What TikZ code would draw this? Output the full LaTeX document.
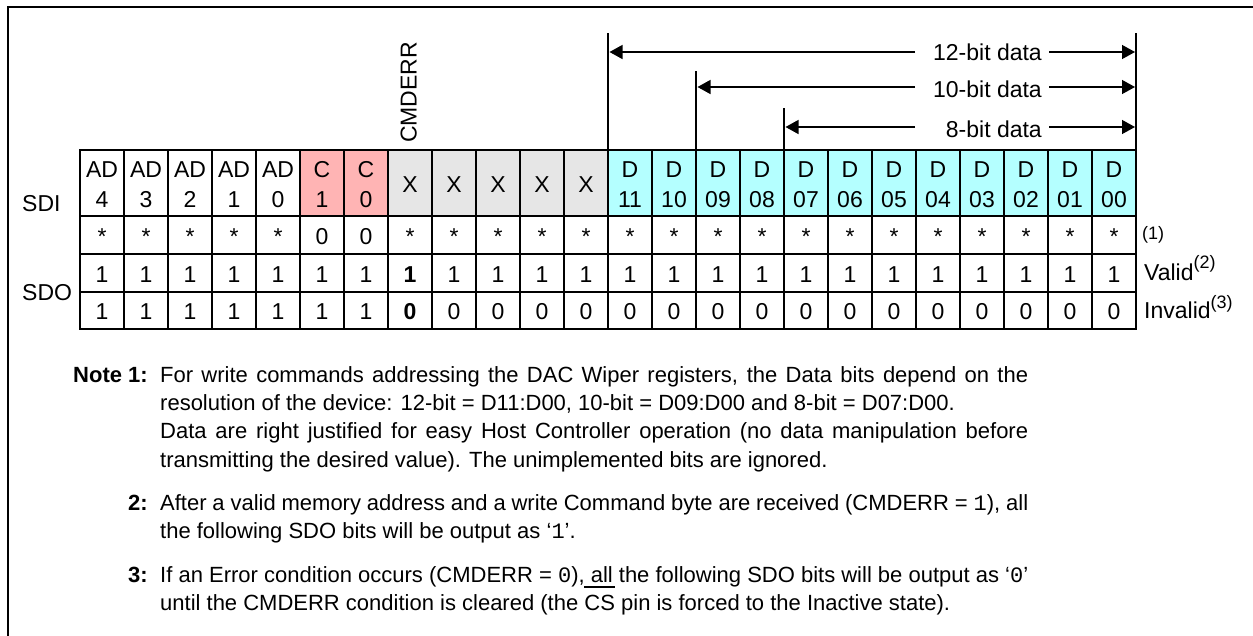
\documentclass[tikz,border=0pt]{standalone}
\usepackage{fontspec}
\setmainfont{Liberation Sans}
\newfontfamily\monof{Liberation Mono}
\usetikzlibrary{arrows.meta}
\definecolor{cpink}{RGB}{255,180,180}
\definecolor{cgrey}{RGB}{230,230,230}
\definecolor{ccyan}{RGB}{180,255,255}
\newcommand\myovl[1]{\setbox0\hbox{#1}\rlap{\rule[22.5pt]{\wd0}{1.5pt}}\box0\relax}
\begin{document}
\begin{tikzpicture}[x=1pt,y=-1pt,
  cellf/.style={font=\fontsize{23}{27}\selectfont, inner sep=0pt, anchor=base},
  notef/.style={font=\fontsize{22}{28}\selectfont, inner sep=0pt},
  sidef/.style={font=\fontsize{18}{22}\selectfont, inner sep=0pt, anchor=base west},
  gridthin/.style={line width=1.3pt},
  gridthick/.style={line width=2.5pt},
  marker/.style={line width=1.3pt},
  arr/.style={line width=1.3pt,-{Triangle[length=13pt,width=14pt]}}]
\useasboundingbox (0,0) rectangle (1253,635);
% frame
\draw[line width=2pt] (8,640) -- (8,7) -- (1260,7);
% fills
\foreach \i in {5,6} \fill[cpink] ({80+44*\i},150) rectangle ++(44,66);
\foreach \i in {7,...,11} \fill[cgrey] ({80+44*\i},150) rectangle ++(44,66);
\foreach \i in {12,...,23} \fill[ccyan] ({80+44*\i},150) rectangle ++(44,66);
% row 1 two-line labels
\foreach \i/\a/\b in {0/AD/4,1/AD/3,2/AD/2,3/AD/1,4/AD/0,5/C/1,6/C/0,
  12/D/11,13/D/10,14/D/09,15/D/08,16/D/07,17/D/06,18/D/05,19/D/04,20/D/03,21/D/02,22/D/01,23/D/00}{
  \node[cellf] (ra\i) at ({102+44*\i},177) {\a};
  \node[cellf] (rb\i) at ({102+44*\i},207) {\b};
}
\foreach \i in {7,...,11} \node[cellf] (ra\i) at ({102+44*\i},192) {X};
% row 2
\foreach \i in {0,...,23}{
  \ifnum\i=5 \def\v{0}\else\ifnum\i=6 \def\v{0}\else\def\v{*}\fi\fi
  \node[cellf] (s\i) at ({102+44*\i},244) {\v};
}
% row 3
\foreach \i in {0,...,23}{
  \ifnum\i=7 \node[cellf,font=\fontsize{23}{27}\selectfont\bfseries] (v\i) at ({102+44*\i},282) {1};
  \else \node[cellf] (v\i) at ({102+44*\i},282) {1};\fi
}
% row 4
\foreach \i in {0,...,23}{
  \ifnum\i<7 \node[cellf] (w\i) at ({102+44*\i},319) {1};
  \else\ifnum\i=7 \node[cellf,font=\fontsize{23}{27}\selectfont\bfseries] (w\i) at ({102+44*\i},319) {0};
  \else \node[cellf] (w\i) at ({102+44*\i},319) {0};\fi\fi
}
% grid
\foreach \i in {1,...,23} \draw[gridthin] ({80+44*\i},150) -- ({80+44*\i},329);
\draw[gridthin] (80,216) -- (1136,216);
\draw[gridthick] (80,254) -- (1136,254);
\draw[gridthin] (80,292) -- (1136,292);
\draw[line width=2pt] (80,150) rectangle (1136,329);
% side labels
\node[cellf,anchor=base west] (sdi) at (22,211) {SDI};
\node[cellf,anchor=base west] (sdo) at (22,300) {SDO};
\node[sidef] (n1) at (1142,239) {(1)};
\node[cellf,anchor=base west] (valid) at (1144,280) {Valid\raisebox{12pt}{\fontsize{18}{22}\selectfont(2)}};
\node[cellf,anchor=base west] (invalid) at (1144,318) {Invalid\raisebox{9.5pt}{\fontsize{18}{22}\selectfont(3)}};
% CMDERR
\node[cellf,anchor=base west,rotate=90] (cmderr) at (416.5,143) {CMDERR};
% markers
\coordinate (m12t) at (608,33); \coordinate (m12b) at (608,150);
\coordinate (m10t) at (696,71); \coordinate (m10b) at (696,150);
\coordinate (m8t) at (784,108); \coordinate (m8b) at (784,150);
\coordinate (mrt) at (1136,33); \coordinate (mrb) at (1136,150);
\draw[marker] (m12t) -- (m12b);
\draw[marker] (m10t) -- (m10b);
\draw[marker] (m8t) -- (m8b);
\draw[marker] (mrt) -- (mrb);
% arrow labels
\node[cellf,anchor=base east] (t12) at (1042,60) {12-bit data};
\node[cellf,anchor=base east] (t10) at (1042,97) {10-bit data};
\node[cellf,anchor=base east] (t8) at (1042,137) {8-bit data};
\coordinate (a12l) at (915,52); \coordinate (a12tip) at (609.5,52);
\coordinate (a12r) at (1049,52); \coordinate (a12tipr) at (1135,52);
\coordinate (a10l) at (915,87); \coordinate (a10tip) at (697.5,87);
\coordinate (a10r) at (1049,87); \coordinate (a10tipr) at (1135,87);
\coordinate (a8l) at (915,127); \coordinate (a8tip) at (785.5,127);
\coordinate (a8r) at (1049,127); \coordinate (a8tipr) at (1135,127);
\draw[arr] (a12l) -- (a12tip);
\draw[arr] (a12r) -- (a12tipr);
\draw[arr] (a10l) -- (a10tip);
\draw[arr] (a10r) -- (a10tipr);
\draw[arr] (a8l) -- (a8tip);
\draw[arr] (a8r) -- (a8tipr);
% notes
\node[notef,anchor=base east,font=\fontsize{22}{28}\selectfont\bfseries] (note1) at (148,382) {Note 1:};
\node[notef,anchor=base west] (l1) at (160,382) {\hbox to 868pt{For write commands addressing the DAC Wiper registers, the Data bits depend on the}};
\node[notef,anchor=base west] (l2) at (160,410) {resolution of the device: 12-bit = D11:D00, 10-bit = D09:D00 and 8-bit = D07:D00.};
\node[notef,anchor=base west] (l3) at (160,438) {\hbox to 868pt{Data are right justified for easy Host Controller operation (no data manipulation before}};
\node[notef,anchor=base west] (l4) at (160,467) {transmitting the desired value). The unimplemented bits are ignored.};
\node[notef,anchor=base east,font=\fontsize{22}{28}\selectfont\bfseries] (note2) at (148,510) {2:};
\node[notef,anchor=base west] (l5) at (160,510) {\hbox to 868pt{After a valid memory address and a write Command byte are received (CMDERR = {\monof 1}), all}};
\node[notef,anchor=base west] (l6) at (160,538) {the following SDO bits will be output as ‘{\monof 1}’.};
\node[notef,anchor=base east,font=\fontsize{22}{28}\selectfont\bfseries] (note3) at (148,582) {3:};
\node[notef,anchor=base west] (l7) at (160,582) {\hbox to 868pt{If an Error condition occurs (CMDERR = {\monof 0}), all the following SDO bits will be output as ‘{\monof 0}’}};
\node[notef,anchor=base west] (l8) at (160,610) {until the CMDERR condition is cleared (the \myovl{CS} pin is forced to the Inactive state).};
\end{tikzpicture}
\end{document}
